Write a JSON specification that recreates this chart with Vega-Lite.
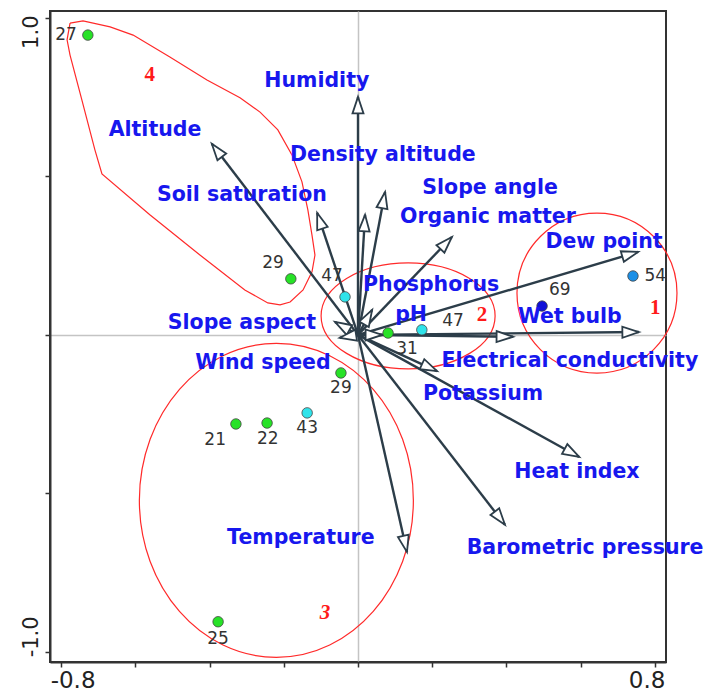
{
  "$schema": "https://vega.github.io/schema/vega-lite/v6.json",
  "width": 616,
  "height": 651,
  "autosize": {"type": "none"},
  "padding": {"left": 50, "top": 11, "right": 41, "bottom": 32},
  "background": "white",
  "config": {"view": {"stroke": "#333333", "strokeWidth": 2}},
  "datasets": {
    "poly": [
      {"o": 1, "x": -0.776, "y": 0.984}, {"o": 2, "x": -0.741, "y": 0.991}, {"o": 3, "x": -0.668, "y": 0.972},
      {"o": 4, "x": -0.606, "y": 0.946}, {"o": 5, "x": -0.507, "y": 0.877}, {"o": 6, "x": -0.407, "y": 0.804},
      {"o": 7, "x": -0.318, "y": 0.748}, {"o": 8, "x": -0.264, "y": 0.703}, {"o": 9, "x": -0.216, "y": 0.647},
      {"o": 10, "x": -0.178, "y": 0.568}, {"o": 11, "x": -0.151, "y": 0.483}, {"o": 12, "x": -0.135, "y": 0.394},
      {"o": 13, "x": -0.124, "y": 0.315}, {"o": 14, "x": -0.116, "y": 0.252}, {"o": 15, "x": -0.124, "y": 0.199},
      {"o": 16, "x": -0.148, "y": 0.142}, {"o": 17, "x": -0.183, "y": 0.104}, {"o": 18, "x": -0.21, "y": 0.095},
      {"o": 19, "x": -0.243, "y": 0.101}, {"o": 20, "x": -0.305, "y": 0.142}, {"o": 21, "x": -0.426, "y": 0.252},
      {"o": 22, "x": -0.561, "y": 0.379}, {"o": 23, "x": -0.69, "y": 0.508}, {"o": 24, "x": -0.709, "y": 0.584},
      {"o": 25, "x": -0.744, "y": 0.741}, {"o": 26, "x": -0.776, "y": 0.883}, {"o": 27, "x": -0.784, "y": 0.931},
      {"o": 28, "x": -0.776, "y": 0.984}
    ],
    "groups": [
      {"g": "1", "x": 0.644, "y": 0.132},
      {"g": "2", "x": 0.135, "y": 0.06},
      {"g": "3", "x": -0.22, "y": -0.522}
    ],
    "glabels": [
      {"g": "4", "x": -0.561, "y": 0.82},
      {"g": "2", "x": 0.334, "y": 0.063},
      {"g": "1", "x": 0.801, "y": 0.085},
      {"g": "3", "x": -0.089, "y": -0.877}
    ],
    "arrows": [
      {"v": "Humidity", "x": 0.0, "y": 0.751},
      {"v": "Density altitude", "x": 0.073, "y": 0.451},
      {"v": "Slope angle", "x": 0.019, "y": 0.379},
      {"v": "Organic matter", "x": 0.253, "y": 0.309},
      {"v": "Soil saturation", "x": -0.11, "y": 0.385},
      {"v": "Altitude", "x": -0.394, "y": 0.603},
      {"v": "Dew point", "x": 0.755, "y": 0.262},
      {"v": "Wet bulb", "x": 0.757, "y": 0.009},
      {"v": "Electrical conductivity", "x": 0.418, "y": -0.006},
      {"v": "Potassium", "x": 0.213, "y": -0.114},
      {"v": "Heat index", "x": 0.596, "y": -0.385},
      {"v": "Barometric pressure", "x": 0.396, "y": -0.599},
      {"v": "Temperature", "x": 0.132, "y": -0.685},
      {"v": "Phosphorus", "x": 0.038, "y": 0.079},
      {"v": "Slope aspect", "x": -0.062, "y": 0.041},
      {"v": "Wind speed", "x": -0.049, "y": -0.009},
      {"v": "pH", "x": 0.065, "y": 0.0}
    ],
    "vlabels": [
      {"v": "Humidity", "x": -0.111, "y": 0.801},
      {"v": "Altitude", "x": -0.547, "y": 0.647},
      {"v": "Density altitude", "x": 0.067, "y": 0.568},
      {"v": "Soil saturation", "x": -0.313, "y": 0.442},
      {"v": "Slope angle", "x": 0.356, "y": 0.464},
      {"v": "Organic matter", "x": 0.35, "y": 0.372},
      {"v": "Dew point", "x": 0.663, "y": 0.293},
      {"v": "Phosphorus", "x": 0.197, "y": 0.158},
      {"v": "Slope aspect", "x": -0.313, "y": 0.038},
      {"v": "pH", "x": 0.143, "y": 0.063},
      {"v": "Wet bulb", "x": 0.571, "y": 0.057},
      {"v": "Wind speed", "x": -0.256, "y": -0.088},
      {"v": "Electrical conductivity", "x": 0.571, "y": -0.082},
      {"v": "Potassium", "x": 0.337, "y": -0.186},
      {"v": "Heat index", "x": 0.59, "y": -0.432},
      {"v": "Barometric pressure", "x": 0.612, "y": -0.672},
      {"v": "Temperature", "x": -0.154, "y": -0.64}
    ],
    "sites": [
      {"id": "27", "x": -0.728, "y": 0.946, "t": "g"},
      {"id": "29", "x": -0.181, "y": 0.177, "t": "g"},
      {"id": "47", "x": -0.035, "y": 0.12, "t": "c"},
      {"id": "31", "x": 0.081, "y": 0.006, "t": "g"},
      {"id": "47", "x": 0.172, "y": 0.016, "t": "c"},
      {"id": "69", "x": 0.496, "y": 0.091, "t": "d"},
      {"id": "54", "x": 0.741, "y": 0.186, "t": "b"},
      {"id": "29", "x": -0.046, "y": -0.12, "t": "g"},
      {"id": "43", "x": -0.137, "y": -0.246, "t": "c"},
      {"id": "22", "x": -0.245, "y": -0.278, "t": "g"},
      {"id": "21", "x": -0.329, "y": -0.281, "t": "g"},
      {"id": "25", "x": -0.377, "y": -0.905, "t": "g"}
    ],
    "slabels": [
      {"id": "27", "x": -0.787, "y": 0.946},
      {"id": "29", "x": -0.229, "y": 0.227},
      {"id": "47", "x": -0.07, "y": 0.186},
      {"id": "31", "x": 0.132, "y": -0.044},
      {"id": "47", "x": 0.256, "y": 0.044},
      {"id": "69", "x": 0.544, "y": 0.142},
      {"id": "54", "x": 0.801, "y": 0.186},
      {"id": "29", "x": -0.046, "y": -0.167},
      {"id": "43", "x": -0.137, "y": -0.293},
      {"id": "22", "x": -0.243, "y": -0.328},
      {"id": "21", "x": -0.385, "y": -0.331},
      {"id": "25", "x": -0.377, "y": -0.959}
    ]
  },
  "encoding": {
    "x": {
      "field": "x", "type": "quantitative", "title": null,
      "scale": {"domain": [-0.83, 0.83], "nice": false, "zero": false},
      "axis": {
        "values": [-0.8, -0.6, -0.4, -0.2, 0, 0.2, 0.4, 0.6, 0.8],
        "labelExpr": "datum.value == -0.8 ? '-0.8' : (datum.value == 0.8 ? '0.8' : '')",
        "grid": true, "gridColor": "#c4c4c4", "gridWidth": 1.5,
        "gridOpacity": {"condition": {"test": "datum.value == 0", "value": 1}, "value": 0},
        "domainColor": "#333333", "domainWidth": 2,
        "tickColor": "#333333", "tickWidth": 1.5, "tickSize": 5,
        "labelFont": "DejaVu Sans", "labelFontSize": 23, "labelColor": "#222222",
        "labelPadding": 2, "labelFlush": false, "labelOverlap": false, "labelBaseline": "top",
        "labelAlign": {"condition": {"test": "datum.value < 0", "value": "left"}, "value": "right"},
        "labelOffset": {"condition": {"test": "datum.value < 0", "value": -11}, "value": 10}
      }
    },
    "y": {
      "field": "y", "type": "quantitative", "title": null,
      "scale": {"domain": [-1.032, 1.022], "nice": false, "zero": false},
      "axis": {
        "values": [-1, -0.5, 0, 0.5, 1],
        "labelExpr": "datum.value == 1 ? '1.0' : (datum.value == -1 ? '-1.0' : '')",
        "grid": true, "gridColor": "#c4c4c4", "gridWidth": 1.5,
        "gridOpacity": {"condition": {"test": "datum.value == 0", "value": 1}, "value": 0},
        "domainColor": "#333333", "domainWidth": 2,
        "tickColor": "#333333", "tickWidth": 1.5, "tickSize": 5,
        "labelFont": "DejaVu Sans", "labelFontSize": 21, "labelColor": "#222222",
        "labelAngle": -90, "labelPadding": 8, "labelFlush": false, "labelOverlap": false,
        "labelBaseline": "alphabetic",
        "labelAlign": {"condition": {"test": "datum.value > 0", "value": "right"}, "value": "left"},
        "labelOffset": {"condition": {"test": "datum.value > 0", "value": -3}, "value": 5}
      }
    }
  },
  "layer": [
    {
      "data": {"name": "poly"},
      "mark": {"type": "line", "color": "#ff2a2a", "strokeWidth": 1.2},
      "encoding": {"order": {"field": "o", "type": "quantitative"}}
    },
    {
      "data": {"name": "groups"},
      "mark": {"type": "point", "filled": false, "size": 4, "strokeWidth": 1.2, "color": "#ff2a2a", "opacity": 1},
      "encoding": {
        "shape": {
          "field": "g", "type": "nominal", "legend": null,
          "scale": {
            "domain": ["1", "2", "3"],
            "range": [
              "M80,0C80,44.2 44.2,80 0,80C-44.2,80 -80,44.2 -80,0C-80,-44.2 -44.2,-80 0,-80C44.2,-80 80,-44.2 80,0Z",
              "M87,0C87,29.3 48,53 0,53C-48,53 -87,29.3 -87,0C-87,-29.3 -48,-53 0,-53C48,-53 87,-29.3 87,0Z",
              "M137,0C137,86.7 75.7,157 0,157C-75.7,157 -137,86.7 -137,0C-137,-86.7 -75.7,-157 0,-157C75.7,-157 137,-86.7 137,0Z"
            ]
          }
        }
      }
    },
    {
      "data": {"name": "arrows"},
      "mark": {"type": "rule", "color": "#2c3d49", "strokeWidth": 2.4},
      "encoding": {"x2": {"datum": 0}, "y2": {"datum": 0}}
    },
    {
      "data": {"name": "arrows"},
      "transform": [{"calculate": "atan2(datum.x * 371, datum.y * 317) * 180 / PI", "as": "ang"}],
      "mark": {"type": "point", "shape": "M0,0L-0.9,2.7L0.9,2.7Z", "size": 150, "filled": true, "fill": "white", "stroke": "#2c3d49", "strokeWidth": 1.8, "opacity": 1},
      "encoding": {"angle": {"field": "ang", "type": "quantitative", "scale": null}}
    },
    {
      "data": {"name": "sites"},
      "mark": {"type": "point", "filled": true, "size": 110, "stroke": "#444444", "strokeWidth": 0.8, "opacity": 1},
      "encoding": {
        "fill": {
          "field": "t", "type": "nominal", "legend": null,
          "scale": {"domain": ["g", "c", "b", "d"], "range": ["#27e227", "#2fe3ea", "#1b8fe6", "#1010d8"]}
        }
      }
    },
    {
      "data": {"name": "slabels"},
      "mark": {"type": "text", "font": "DejaVu Sans", "fontSize": 17, "color": "#333333", "align": "center", "baseline": "middle"},
      "encoding": {"text": {"field": "id", "type": "nominal"}}
    },
    {
      "data": {"name": "vlabels"},
      "mark": {"type": "text", "font": "DejaVu Sans", "fontSize": 20.5, "fontWeight": "bold", "color": "#1717ee", "align": "center", "baseline": "middle"},
      "encoding": {"text": {"field": "v", "type": "nominal"}}
    },
    {
      "data": {"name": "glabels"},
      "transform": [{"filter": "datum.g != '3'"}],
      "mark": {"type": "text", "font": "Liberation Serif", "fontSize": 21, "fontWeight": "bold", "color": "#ff1a1a", "align": "center", "baseline": "middle"},
      "encoding": {"text": {"field": "g", "type": "nominal"}}
    },
    {
      "data": {"name": "glabels"},
      "transform": [{"filter": "datum.g == '3'"}],
      "mark": {"type": "text", "font": "Liberation Serif", "fontSize": 21, "fontWeight": "bold", "fontStyle": "italic", "color": "#ff1a1a", "align": "center", "baseline": "middle"},
      "encoding": {"text": {"field": "g", "type": "nominal"}}
    }
  ]
}
